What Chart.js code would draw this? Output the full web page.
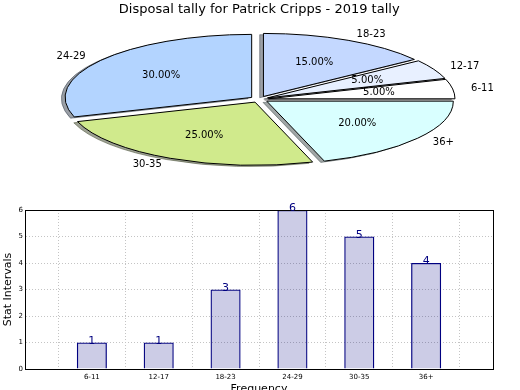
<!DOCTYPE html>
<html lang="en">
<head>
  <meta charset="UTF-8">
  <title>Disposal tally for Patrick Cripps - 2019 tally</title>
  <script src="https://cdn.jsdelivr.net/npm/chart.js"></script>
  <style>
    body { margin: 0; background: #fff; overflow: hidden; }
    #wrap { position: relative; width: 520px; height: 390px; overflow: hidden; }
    canvas { position: absolute; left: 0; top: 0; }
  </style>
</head>
<body>
  <div id="wrap">
    <canvas id="barChart" width="520" height="396"></canvas>
    <canvas id="pieChart" width="520" height="181"></canvas>
  </div>

  <script>
    const categories = ['6-11', '12-17', '18-23', '24-29', '30-35', '36+'];
    const counts = [1, 1, 3, 6, 5, 4];
    const pieColors = ['#ffffff', '#e8f0ff', '#c4d8ff', '#b3d4ff', '#d0ea8c', '#d9ffff'];
    const yTicks = [0, 1, 2, 3, 4, 5, 6];

    Chart.defaults.font.family = '"DejaVu Sans", sans-serif';
    Chart.defaults.color = '#000';

    // pie look (matplotlib style: flattened, exploded, with shadow)
    const K = 0.338;       // vertical squash
    const EXPLODE = 9.3;   // px each wedge is pushed out
    const SHADOW = 3.7;    // shadow shift

    function shade(hex) {
      const n = parseInt(hex.slice(1), 16);
      const r = (n >> 16) & 255, g = (n >> 8) & 255, b = n & 255;
      return 'rgba(' + Math.round(r * 0.3) + ',' + Math.round(g * 0.3) + ',' + Math.round(b * 0.3) + ',0.5)';
    }

    const flatPie = {
      id: 'flatPie',
      beforeDatasetsDraw(chart) {
        const ctx = chart.ctx;
        const arcs = chart.getDatasetMeta(0).data;
        const base = ctx.getTransform();
        const stroke = ctx.stroke;
        // keep outline width even though the pie is squashed
        ctx.stroke = function () {
          this.save();
          this.setTransform(base);
          stroke.apply(this, arguments);
          this.restore();
        };
        [true, false].forEach(isShadow => {
          arcs.forEach(arc => {
            const mid = (arc.startAngle + arc.endAngle) / 2;
            ctx.save();
            ctx.translate(arc.x, arc.y);
            ctx.scale(1, K);
            ctx.translate(-arc.x, -arc.y);
            ctx.translate(Math.cos(mid) * EXPLODE, Math.sin(mid) * EXPLODE);
            if (isShadow) {
              ctx.translate(-SHADOW, SHADOW);
              const o = arc.options;
              const c = shade(o.backgroundColor);
              arc.options = Object.assign({}, o, { backgroundColor: c, borderColor: c });
              arc.draw(ctx);
              arc.options = o;
            } else {
              arc.draw(ctx);
            }
            ctx.restore();
          });
        });
        delete ctx.stroke;
        return false;
      },
      afterDraw(chart) {
        const ctx = chart.ctx;
        const arcs = chart.getDatasetMeta(0).data;
        const labels = chart.data.labels;
        const values = chart.data.datasets[0].data;
        const total = values.reduce((a, b) => a + b, 0);
        ctx.save();
        ctx.font = '10px "DejaVu Sans"';
        ctx.fillStyle = '#000';
        ctx.textBaseline = 'middle';
        arcs.forEach((arc, i) => {
          const mid = (arc.startAngle + arc.endAngle) / 2;
          const c = Math.cos(mid), s = Math.sin(mid);
          const r = arc.outerRadius;
          const at = f => [arc.x + c * (EXPLODE + f * r), arc.y + s * (EXPLODE + f * r) * K];
          let [x, y] = at(1.1);
          ctx.textAlign = c > 0 ? 'left' : 'right';
          ctx.fillText(labels[i], x, y);
          [x, y] = at(0.6);
          ctx.textAlign = 'center';
          ctx.fillText((values[i] / total * 100).toFixed(2) + '%', x, y);
        });
        ctx.restore();
      }
    };

    // pie goes counter-clockwise from 3 o'clock, chart.js clockwise -> reverse
    new Chart(document.getElementById('pieChart'), {
      type: 'pie',
      data: {
        labels: categories.slice().reverse(),
        datasets: [{
          data: counts.slice().reverse(),
          backgroundColor: pieColors.slice().reverse(),
          borderColor: '#000',
          borderWidth: 1,
          borderJoinStyle: 'round',
          clip: false
        }]
      },
      options: {
        responsive: false,
        animation: false,
        events: [],
        rotation: 90,
        radius: 186.6,
        layout: { padding: { top: 0, right: 1.6, left: 0, bottom: 0 } },
        plugins: {
          legend: { display: false },
          tooltip: { enabled: false },
          title: {
            display: true,
            text: 'Disposal tally for Patrick Cripps - 2019 tally',
            font: { size: 13, weight: 'normal' },
            color: '#000',
            padding: { top: 2, bottom: 0 }
          }
        }
      },
      plugins: [flatPie]
    });

    const barExtras = {
      id: 'barExtras',
      afterDraw(chart) {
        const ctx = chart.ctx;
        const a = chart.chartArea;
        const bars = chart.getDatasetMeta(0).data;
        const vals = chart.data.datasets[0].data;
        ctx.save();
        ctx.strokeStyle = '#000';
        ctx.lineWidth = 1;
        ctx.strokeRect(Math.round(a.left) + 0.5, Math.round(a.top) + 0.5,
          Math.round(a.right - a.left), Math.round(a.bottom - a.top));
        ctx.font = '11px "DejaVu Sans"';
        ctx.fillStyle = 'navy';
        ctx.textAlign = 'center';
        ctx.textBaseline = 'alphabetic';
        bars.forEach((bar, i) => {
          if (vals[i] == null) return;
          ctx.fillText(String(vals[i]), bar.x, bar.y + 1);
        });
        ctx.restore();
      }
    };

    new Chart(document.getElementById('barChart'), {
      type: 'bar',
      data: {
        labels: [''].concat(categories, ['']),
        datasets: [{
          data: [null].concat(counts, [null]),
          backgroundColor: 'rgba(0,0,128,0.2)',
          borderColor: 'navy',
          borderWidth: 1.3,
          barPercentage: 0.45,
          categoryPercentage: 1
        }]
      },
      options: {
        responsive: false,
        animation: false,
        events: [],
        layout: { padding: { top: 210, right: 27, left: 0, bottom: 0 } },
        plugins: { legend: { display: false }, tooltip: { enabled: false } },
        scales: {
          x: {
            offset: false,
            z: 1,
            ticks: { font: { size: 7 }, color: '#000', padding: 4, autoSkip: false, maxRotation: 0 },
            grid: { color: '#c4c4c4', drawTicks: false },
            border: { color: '#000', dash: [1, 2] },
            title: { display: true, text: 'Frequency', font: { size: 11 }, color: '#000', padding: 0 },
            afterFit: s => { s.height = 396 - 369; }
          },
          y: {
            min: 0,
            max: 6,
            z: 1,
            afterBuildTicks: s => { s.ticks = yTicks.map(v => ({ value: v })); },
            ticks: { font: { size: 7 }, color: '#000', padding: 2 },
            grid: { color: '#c4c4c4', drawTicks: false },
            border: { color: '#000', dash: [1, 2] },
            title: { display: true, text: 'Stat Intervals', font: { size: 11 }, color: '#000', padding: { top: 2, bottom: 0 } },
            afterFit: s => { s.width = 25; }
          }
        }
      },
      plugins: [barExtras]
    });
  </script>
</body>
</html>
